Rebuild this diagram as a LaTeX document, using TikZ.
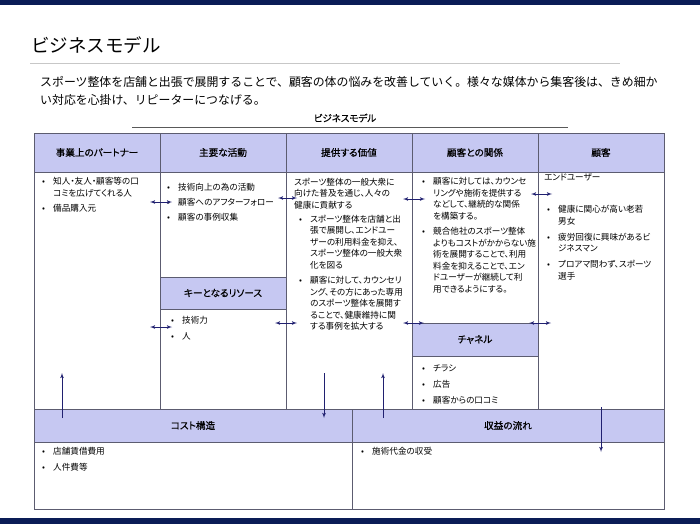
\documentclass[tikz,border=0pt]{standalone}
\usepackage{fontspec}
\setmainfont{Noto Sans CJK JP}
\newfontfamily\headfont[FakeBold=0.6,RawFeature=+palt]{Noto Sans CJK JP}
\newfontfamily\bodyfont[RawFeature=+palt]{Noto Sans CJK JP}
\usetikzlibrary{arrows,positioning}
\definecolor{navy}{RGB}{10,28,86}
\definecolor{lav}{RGB}{198,200,242}
\definecolor{edge}{RGB}{92,92,112}
\definecolor{arr}{RGB}{32,32,112}
\tikzstyle{head} = [rectangle, draw=edge, fill=lav, line width=0.8pt, outer sep=0pt, inner sep=0pt,
    minimum width=126pt, minimum height=39pt, font=\fontsize{9.6}{11}\selectfont\headfont]
\tikzstyle{cell} = [rectangle, draw=edge, line width=0.8pt, outer sep=0pt, inner sep=0pt, minimum width=126pt]
\tikzstyle{txt} = [anchor=north west, inner sep=0pt, align=left, font=\fontsize{8.6}{11.5}\selectfont\bodyfont]
\tikzstyle{line} = [draw=arr, line width=0.8pt, latex'-latex']
\tikzstyle{oneway} = [draw=arr, line width=0.8pt, -latex']
\newcommand{\bl}{\makebox[11pt][l]{•}}
\newcommand{\ind}{\hspace*{11pt}}

\begin{document}
\begin{tikzpicture}[x=1pt, y=-1pt]
	\useasboundingbox (0,0) rectangle (700,524);
	\fill[navy] (0,0) rectangle (700,5);
	\fill[navy] (0,518) rectangle (700,524);

	% title and lead text
	\node [anchor=west, inner sep=0pt, font=\fontsize{18.5}{22}\selectfont] (title) at (31,45) {ビジネスモデル};
	\draw [black!22, line width=0.8pt] (30,63) -- (620,63);
	\node [anchor=north west, inner sep=0pt, align=left, font=\fontsize{11.9}{18}\selectfont] (lead) at (40,76)
		{スポーツ整体を店舗と出張で展開することで、顧客の体の悩みを改善していく。様々な媒体から集客後は、きめ細か\\い対応を心掛け、リピーターにつなげる。};
	\node [inner sep=0pt, font=\fontsize{9.5}{11}\selectfont\headfont] (caption) at (345,118) {ビジネスモデル};
	\draw [black!65, line width=0.8pt] (132,127) -- (568,127);

	% header row
	\node [head] (hpart) at (97,152.5) {事業上のパートナー};
	\node [head, right=0pt of hpart] (hact) {主要な活動};
	\node [head, right=0pt of hact] (hval) {提供する価値};
	\node [head, right=0pt of hval] (hrel) {顧客との関係};
	\node [head, right=0pt of hrel] (hcust) {顧客};

	% cells
	\node [cell, minimum height=237pt, below=0pt of hpart] (bpart) {};
	\node [cell, minimum height=105pt, below=0pt of hact] (bact) {};
	\node [head, minimum height=32pt, below=0pt of bact] (hres) {キーとなるリソース};
	\node [cell, minimum height=100pt, below=0pt of hres] (bres) {};
	\node [cell, minimum height=237pt, below=0pt of hval] (bval) {};
	\node [cell, minimum height=151pt, below=0pt of hrel] (brel) {};
	\node [head, minimum height=33pt, below=0pt of brel] (hchan) {チャネル};
	\node [cell, minimum height=53pt, below=0pt of hchan] (bchan) {};
	\node [cell, minimum height=237pt, below=0pt of hcust] (bcust) {};

	\node [head, minimum width=318pt, minimum height=33pt, anchor=north west] (hcost) at (bpart.south west) {コスト構造};
	\node [head, minimum width=312pt, minimum height=33pt, right=0pt of hcost] (hrev) {収益の流れ};
	\node [cell, minimum width=318pt, minimum height=67pt, below=0pt of hcost] (bcost) {};
	\node [cell, minimum width=312pt, minimum height=67pt, below=0pt of hrev] (brev) {};

	% texts
	\node [txt] (tpart) at (42,177.5) {\bl 知人・友人・顧客等の口\\ \ind コミを広げてくれる人\\[4pt] \bl 備品購入元};
	\node [txt] (tact) at (167,183.5) {\bl 技術向上の為の活動\\[3.5pt] \bl 顧客へのアフターフォロー\\[3.5pt] \bl 顧客の事例収集};
	\node [txt] (tval) at (294,177.5) {スポーツ整体の一般大衆に\\向けた普及を通じ、人々の\\健康に貢献する};
	\node [txt] (lval) at (299,214.5) {\bl スポーツ整体を店舗と出\\ \ind 張で展開し、エンドユー\\ \ind ザーの利用料金を抑え、\\ \ind スポーツ整体の一般大衆\\ \ind 化を図る\\[4pt]
		\bl 顧客に対して、カウンセリ\\ \ind ング、その方にあった専用\\ \ind のスポーツ整体を展開す\\ \ind ることで、健康維持に関\\ \ind する事例を拡大する};
	\node [txt] (trel) at (422,177.5) {\bl 顧客に対しては、カウンセ\\ \ind リングや施術を提供する\\ \ind などして、継続的な関係\\ \ind を構築する。\\[4pt]
		\bl 競合他社のスポーツ整体\\ \ind よりもコストがかからない施\\ \ind 術を展開することで、利用\\ \ind 料金を抑えることで、エン\\ \ind ドユーザーが継続して利\\ \ind 用できるようにする。};
	\node [txt] (tcust) at (544,173.5) {エンドユーザー};
	\node [txt] (lcust) at (547,205.5) {\bl 健康に関心が高い老若\\ \ind 男女\\[4.5pt] \bl 疲労回復に興味があるビ\\ \ind ジネスマン\\[4.5pt] \bl プロアマ問わず、スポーツ\\ \ind 選手};
	\node [txt] (tres) at (171,316.5) {\bl 技術力\\[4.5pt] \bl 人};
	\node [txt] (tchan) at (422,364.5) {\bl チラシ\\[4.5pt] \bl 広告\\[4.5pt] \bl 顧客からの口コミ};
	\node [txt] (tcost) at (42,447.5) {\bl 店舗賃借費用\\[4.5pt] \bl 人件費等};
	\node [txt] (trev) at (361,447.5) {\bl 施術代金の収受};

	% connectors
	\coordinate (pa1) at (150,202);
	\coordinate (pa2) at (172,202);
	\coordinate (av1) at (278,198);
	\coordinate (av2) at (297,198);
	\coordinate (vr1) at (403,199);
	\coordinate (vr2) at (425,199);
	\coordinate (rc1) at (531,194);
	\coordinate (rc2) at (552,194);
	\coordinate (pr1) at (150,327);
	\coordinate (pr2) at (172,327);
	\coordinate (rv1) at (275,323);
	\coordinate (rv2) at (297,323);
	\coordinate (vc1) at (403,323);
	\coordinate (vc2) at (424,323);
	\coordinate (cc1) at (529,323);
	\coordinate (cc2) at (551,323);

	\path [line] (pa1) -- (pa2);
	\path [line] (av1) -- (av2);
	\path [line] (vr1) -- (vr2);
	\path [line] (rc1) -- (rc2);
	\path [line] (pr1) -- (pr2);
	\path [line] (rv1) -- (rv2);
	\path [line] (vc1) -- (vc2);
	\path [line] (cc1) -- (cc2);

	\coordinate (cu1) at (62,418);
	\coordinate (cu2) at (62,373);
	\coordinate (cd1) at (324,373);
	\coordinate (cd2) at (324,418);
	\coordinate (ru1) at (383,418);
	\coordinate (ru2) at (383,373);
	\coordinate (rd1) at (601,407);
	\coordinate (rd2) at (601,452);

	\path [oneway] (cu1) -- (cu2);
	\path [oneway] (cd1) -- (cd2);
	\path [oneway] (ru1) -- (ru2);
	\path [oneway] (rd1) -- (rd2);
\end{tikzpicture}
\end{document}
